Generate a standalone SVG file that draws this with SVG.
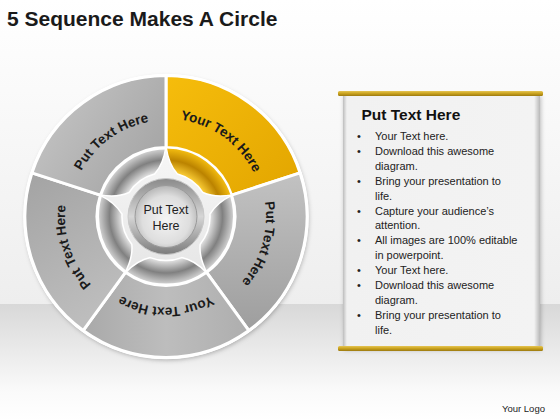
<svg xmlns="http://www.w3.org/2000/svg" xmlns:xlink="http://www.w3.org/1999/xlink" width="560" height="420" viewBox="0 0 560 420">
<defs>
<linearGradient id="bgTop" x1="0" y1="0" x2="0" y2="1"><stop offset="0" stop-color="#ffffff"/><stop offset="1" stop-color="#eeeeee"/></linearGradient>
<linearGradient id="bgFloor" x1="0" y1="0" x2="0" y2="1"><stop offset="0" stop-color="#d8d8d8"/><stop offset="0.75" stop-color="#fafafa"/><stop offset="1" stop-color="#ffffff"/></linearGradient>
<linearGradient id="gYel" x1="0" y1="0" x2="1" y2="1"><stop offset="0" stop-color="#f6bd0c"/><stop offset="1" stop-color="#e2a500"/></linearGradient>
<linearGradient id="gTL" x1="0" y1="0" x2="1" y2="0.6"><stop offset="0" stop-color="#c9c9c9"/><stop offset="1" stop-color="#a6a6a6"/></linearGradient>
<linearGradient id="gL" x1="0" y1="0" x2="0.4" y2="1"><stop offset="0" stop-color="#a3a3a3"/><stop offset="1" stop-color="#bdbdbd"/></linearGradient>
<linearGradient id="gB" x1="0" y1="0" x2="1" y2="0"><stop offset="0" stop-color="#a9a9a9"/><stop offset="0.5" stop-color="#bdbdbd"/><stop offset="1" stop-color="#aeaeae"/></linearGradient>
<linearGradient id="gR" x1="0" y1="0" x2="0" y2="1"><stop offset="0" stop-color="#c2c2c2"/><stop offset="1" stop-color="#9e9e9e"/></linearGradient>
<radialGradient id="gRing" gradientUnits="userSpaceOnUse" cx="166" cy="216.5" r="68"><stop offset="0.64" stop-color="#e8e8e8"/><stop offset="0.83" stop-color="#808080"/><stop offset="1" stop-color="#d4d4d4"/></radialGradient>
<radialGradient id="gRingY" gradientUnits="userSpaceOnUse" cx="166" cy="216.5" r="68"><stop offset="0.64" stop-color="#ffd23a"/><stop offset="0.83" stop-color="#bb8300"/><stop offset="1" stop-color="#f2bb10"/></radialGradient>
<linearGradient id="gStar" x1="0" y1="0" x2="0" y2="1"><stop offset="0" stop-color="#f7f7f7"/><stop offset="1" stop-color="#e6e6e6"/></linearGradient>
<linearGradient id="gBezel" x1="0" y1="0" x2="0" y2="1"><stop offset="0" stop-color="#8a8a8a"/><stop offset="0.5" stop-color="#d6d6d6"/><stop offset="1" stop-color="#7c7c7c"/></linearGradient>
<radialGradient id="gFace" cx="0.5" cy="0.55" r="0.55"><stop offset="0" stop-color="#f4f4f4"/><stop offset="0.7" stop-color="#dedede"/><stop offset="1" stop-color="#b5b5b5"/></radialGradient>
<linearGradient id="gGold" x1="0" y1="0" x2="0" y2="1"><stop offset="0" stop-color="#e6c553"/><stop offset="0.5" stop-color="#c9a21e"/><stop offset="1" stop-color="#9c7a10"/></linearGradient>
<linearGradient id="gPanel" x1="0" y1="0" x2="1" y2="0"><stop offset="0" stop-color="#bdbdbd"/><stop offset="0.02" stop-color="#f1f1f1"/><stop offset="0.97" stop-color="#f3f3f3"/><stop offset="1" stop-color="#b8b8b8"/></linearGradient>
<filter id="sh" x="-10%" y="-10%" width="120%" height="120%"><feDropShadow dx="1" dy="2" stdDeviation="2" flood-color="#000" flood-opacity="0.25"/></filter>
<path id="tpY" d="M166,118.5 A98,98 0 1 1 166,314.5 A98,98 0 1 1 166,118.5"/>
<path id="tpR" d="M166,116.5 A100,100 0 1 1 166,316.5 A100,100 0 1 1 166,116.5"/>
<path id="tpB" d="M166,125.5 A91,91 0 1 1 166,307.5 A91,91 0 1 1 166,125.5"/>
<path id="tpL" d="M166,115.5 A101,101 0 1 1 166,317.5 A101,101 0 1 1 166,115.5"/>
<path id="tpT" d="M166,120.5 A96,96 0 1 1 166,312.5 A96,96 0 1 1 166,120.5"/>
</defs>
<style>
.seg{stroke:#ffffff;stroke-width:3;stroke-linejoin:round}
.lbl{font-family:"Liberation Sans",Arial,sans-serif;font-weight:bold;font-size:13.5px;fill:#1a1a1a}
.body{font-family:"Liberation Sans",Arial,sans-serif;font-size:11px;fill:#222}
</style>
<rect x="0" y="0" width="560" height="304" fill="url(#bgTop)"/>
<rect x="0" y="304" width="560" height="116" fill="url(#bgFloor)"/>
<text x="7" y="26" font-family="'Liberation Sans',Arial,sans-serif" font-weight="bold" font-size="21" fill="#1a1a1a">5 Sequence Makes A Circle</text>

<g id="wheel">
<circle cx="166" cy="216.5" r="142" fill="#ffffff" filter="url(#sh)"/>
<g id="seg-yellow"><path class="seg" fill="url(#gYel)" d="M166,75.5 A141,141 0 0 1 300.10,172.93 L231.62,195.18 A69,69 0 0 0 166,147.5 Z"/></g>
<g id="seg-right"><path class="seg" fill="url(#gR)" d="M300.10,172.93 A141,141 0 0 1 248.88,330.57 L206.56,272.32 A69,69 0 0 0 231.62,195.18 Z"/></g>
<g id="seg-bottom"><path class="seg" fill="url(#gB)" d="M248.88,330.57 A141,141 0 0 1 83.12,330.57 L125.44,272.32 A69,69 0 0 0 206.56,272.32 Z"/></g>
<g id="seg-left"><path class="seg" fill="url(#gL)" d="M83.12,330.57 A141,141 0 0 1 31.90,172.93 L100.38,195.18 A69,69 0 0 0 125.44,272.32 Z"/></g>
<g id="seg-topleft"><path class="seg" fill="url(#gTL)" d="M31.90,172.93 A141,141 0 0 1 166,75.5 L166,147.5 A69,69 0 0 0 100.38,195.18 Z"/></g>
<circle cx="166" cy="216.5" r="141.5" fill="none" stroke="#ffffff" stroke-width="2.5"/>
<circle cx="166" cy="216.5" r="68" fill="url(#gRing)" stroke="#ffffff" stroke-width="2"/>
<path fill="url(#gRingY)" d="M166,148.5 A68,68 0 0 1 230.67,195.49 L207.85,202.90 A44,44 0 0 0 166,172.5 Z"/>
<path id="star" fill="url(#gStar)" stroke="#ffffff" stroke-width="1.5" d="M154.61,174 Q163.28,164.57 166,146.5 Q168.72,164.57 177.39,174 A44,44 0 0 1 202.90,192.54 Q214.55,197.86 232.57,194.87 Q216.23,203.04 209.94,214.20 A44,44 0 0 1 200.19,244.19 Q198.72,256.91 207.15,273.13 Q194.32,260.11 181.77,257.58 A44,44 0 0 1 150.23,257.58 Q137.68,260.11 124.85,273.13 Q133.28,256.91 131.81,244.19 A44,44 0 0 1 122.06,214.20 Q115.77,203.04 99.43,194.87 Q117.45,197.86 129.10,192.54 A44,44 0 0 1 154.61,174 Z"/>
</g>

<g id="center">
<circle cx="166" cy="216.5" r="38" fill="url(#gBezel)" stroke="#c8c8c8" stroke-width="1"/>
<circle cx="166" cy="216.5" r="31" fill="url(#gFace)" stroke="#9a9a9a" stroke-width="1"/>
<text x="166" y="213.5" text-anchor="middle" font-family="'Liberation Sans',Arial,sans-serif" font-size="12.5" fill="#222">Put Text</text>
<text x="166" y="230" text-anchor="middle" font-family="'Liberation Sans',Arial,sans-serif" font-size="12.5" fill="#222">Here</text>
</g>

<g id="labels">
<text class="lbl"><textPath xlink:href="#tpY" href="#tpY" startOffset="10%" text-anchor="middle">Your Text Here</textPath></text>
<text class="lbl"><textPath xlink:href="#tpR" href="#tpR" startOffset="29.5%" text-anchor="middle">Put Text Here</textPath></text>
<text class="lbl"><textPath xlink:href="#tpB" href="#tpB" startOffset="50%" text-anchor="middle">Your Text Here</textPath></text>
<text class="lbl"><textPath xlink:href="#tpL" href="#tpL" startOffset="70%" text-anchor="middle">Put Text Here</textPath></text>
<text class="lbl"><textPath xlink:href="#tpT" href="#tpT" startOffset="90%" text-anchor="middle">Put Text Here</textPath></text>
</g>

<g id="panel">
<rect x="343" y="94" width="197" height="254" fill="url(#gPanel)" filter="url(#sh)"/>
<rect x="338" y="91" width="205" height="5" rx="1.5" fill="url(#gGold)"/>
<rect x="338" y="346" width="205" height="5" rx="1.5" fill="url(#gGold)"/>
<text x="361.5" y="119.5" font-family="'Liberation Sans',Arial,sans-serif" font-weight="bold" font-size="15.5" fill="#111">Put Text Here</text>
<g class="body">
<text x="357" y="140">•</text><text x="375" y="140">Your Text here.</text>
<text x="357" y="154.9">•</text><text x="375" y="154.9">Download this awesome</text>
<text x="375" y="169.8">diagram.</text>
<text x="357" y="184.7">•</text><text x="375" y="184.7">Bring your presentation to</text>
<text x="375" y="199.6">life.</text>
<text x="357" y="214.5">•</text><text x="375" y="214.5">Capture your audience’s</text>
<text x="375" y="229.4">attention.</text>
<text x="357" y="244.3">•</text><text x="375" y="244.3">All images are 100% editable</text>
<text x="375" y="259.2">in powerpoint.</text>
<text x="357" y="274.1">•</text><text x="375" y="274.1">Your Text here.</text>
<text x="357" y="289">•</text><text x="375" y="289">Download this awesome</text>
<text x="375" y="303.9">diagram.</text>
<text x="357" y="318.8">•</text><text x="375" y="318.8">Bring your presentation to</text>
<text x="375" y="333.7">life.</text>
</g>
</g>

<text x="502" y="411.5" font-family="'Liberation Sans',Arial,sans-serif" font-size="9.5" fill="#222">Your Logo</text>
</svg>
